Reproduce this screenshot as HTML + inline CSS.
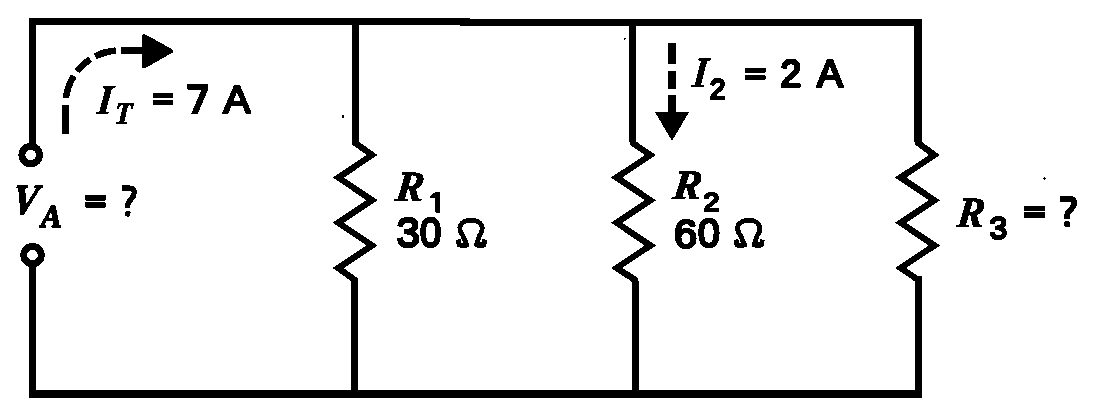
<!DOCTYPE html>
<html><head><meta charset="utf-8"><style>
html,body{margin:0;padding:0;background:#fff;width:1104px;height:412px;overflow:hidden}
svg{display:block}
text{fill:#000}
</style></head><body>
<svg width="1104" height="412" viewBox="0 0 1104 412">
<defs><filter id="bin" x="0" y="0" width="1104" height="412" filterUnits="userSpaceOnUse" color-interpolation-filters="sRGB"><feComponentTransfer><feFuncR type="discrete" tableValues="0 1"/><feFuncG type="discrete" tableValues="0 1"/><feFuncB type="discrete" tableValues="0 1"/></feComponentTransfer></filter></defs>
<g filter="url(#bin)">
<rect width="1104" height="412" fill="#fff"/>
<path d="M32.2 147 L32.2 21.3 L466 21.3" fill="none" stroke="#000" stroke-width="7" stroke-linejoin="miter" stroke-linecap="square"/>
<path d="M464 22.4 L918.3 22.4 L918.3 141" fill="none" stroke="#000" stroke-width="7" stroke-linejoin="miter" stroke-linecap="square"/>
<rect x="342" y="115.5" width="2" height="2"/><rect x="1043.5" y="177.5" width="2" height="2"/><rect x="624" y="38" width="1.5" height="1.5"/>
<path d="M32.4 263 L32.4 394 L918.5 394 L918.5 280" fill="none" stroke="#000" stroke-width="7" stroke-linejoin="miter" stroke-linecap="square"/>
<path d="M355.2 21.5 L355.2 143 L372.05 155.00 L338.25 177.60 L372.05 200.20 L338.25 222.80 L372.05 245.40 L338.25 268.00 L354.9 280 L354.9 394" fill="none" stroke="#000" stroke-width="6.3" stroke-linejoin="miter" stroke-miterlimit="10"/>
<path d="M355.2 21.5 L355.2 142" fill="none" stroke="#000" stroke-width="7"/><path d="M354.9 281 L354.9 394" fill="none" stroke="#000" stroke-width="7"/>
<path d="M632.8 21.5 L632.8 143 L650.40 155.00 L616.60 177.60 L650.40 200.20 L616.60 222.80 L650.40 245.40 L616.60 268.00 L635.3 280 L635.3 394" fill="none" stroke="#000" stroke-width="6.3" stroke-linejoin="miter" stroke-miterlimit="10"/>
<path d="M632.8 21.5 L632.8 142" fill="none" stroke="#000" stroke-width="7"/><path d="M635.3 281 L635.3 394" fill="none" stroke="#000" stroke-width="7"/>
<path d="M918.0 21.5 L918.0 143 L934.40 155.00 L900.60 177.60 L934.40 200.20 L900.60 222.80 L934.40 245.40 L900.60 268.00 L918.2 280 L918.2 394" fill="none" stroke="#000" stroke-width="6.3" stroke-linejoin="miter" stroke-miterlimit="10"/>
<path d="M918.0 21.5 L918.0 142" fill="none" stroke="#000" stroke-width="7"/><path d="M918.2 281 L918.2 394" fill="none" stroke="#000" stroke-width="7"/>
<circle cx="30.7" cy="155" r="8.8" fill="#fff" stroke="#000" stroke-width="7"/>
<circle cx="32.5" cy="255" r="8.8" fill="#fff" stroke="#000" stroke-width="7"/>
<path d="M65.6 134 L65.6 105 M65.90 97.92 A54 54 0 0 1 73.71 75.88 M76.95 71.25 A54 54 0 0 1 90.09 59.21 M94.98 56.39 A54 54 0 0 1 115.73 50.63 M121 50.4 L146 50.4" fill="none" stroke="#000" stroke-width="6.6"/>
<path d="M144 36 L171.3 51 L144 66.4 Z" fill="#000" stroke="#000" stroke-width="4" stroke-linejoin="round"/>
<path d="M672 43 L672 64 M672 71 L672 89 M672 95 L672 114" fill="none" stroke="#000" stroke-width="7"/>
<path d="M655 112 L689 112 L672 141 Z" fill="#000"/>
<rect x="153" y="93" width="20.4" height="4.75"/><rect x="153" y="99.9" width="20.4" height="5.10"/>
<rect x="85.2" y="195" width="20.4" height="5.50"/><rect x="85.2" y="202.3" width="20.4" height="5.20"/>
<rect x="745" y="67.9" width="20.6" height="4.60"/><rect x="745" y="75.2" width="20.6" height="4.60"/>
<rect x="1024.1" y="205.8" width="21.3" height="5.00"/><rect x="1024.1" y="212.4" width="21.3" height="5.40"/>
<text transform="translate(96.14 113.59) scale(0.1916 0.2115) skewX(-7)" font-family="Liberation Serif" font-weight="bold" font-style="italic" font-size="200" stroke="#000" stroke-width="4.46" stroke-linejoin="round">I</text>
<text transform="translate(114.12 124.40) scale(0.1411 0.1586) skewX(-5)" font-family="Liberation Serif" font-weight="bold" font-style="italic" font-size="200" stroke="#000" stroke-width="6.67" stroke-linejoin="round">T</text>
<text transform="translate(223.27 112.69) scale(0.2049 0.1965)" font-family="Liberation Sans" font-weight="normal" font-style="normal" font-size="200" stroke="#000" stroke-width="10.96" stroke-linejoin="round">A</text>
<text transform="translate(11.47 214.01) scale(0.1896 0.2156) skewX(-8)" font-family="Liberation Serif" font-weight="bold" font-style="italic" font-size="200" stroke="#000" stroke-width="7.40" stroke-linejoin="round">V</text>
<text transform="translate(41.08 226.91) scale(0.1559 0.1574)" font-family="Liberation Serif" font-weight="bold" font-style="italic" font-size="200" stroke="#000" stroke-width="8.94" stroke-linejoin="round">A</text>
<text transform="translate(394.60 200.72) scale(0.2103 0.2158) skewX(-7)" font-family="Liberation Serif" font-weight="bold" font-style="italic" font-size="200" stroke="#000" stroke-width="4.69" stroke-linejoin="round">R</text>
<text transform="translate(396.46 247.48) scale(0.2097 0.2169)" font-family="Liberation Sans" font-weight="normal" font-style="normal" font-size="200" stroke="#000" stroke-width="11.96" stroke-linejoin="round">3</text>
<text transform="translate(420.00 247.48) scale(0.1907 0.2169)" font-family="Liberation Sans" font-weight="normal" font-style="normal" font-size="200" stroke="#000" stroke-width="12.51" stroke-linejoin="round">0</text>
<text transform="translate(691.63 87.38) scale(0.1896 0.2176) skewX(-7)" font-family="Liberation Serif" font-weight="bold" font-style="italic" font-size="200" stroke="#000" stroke-width="3.44" stroke-linejoin="round">I</text>
<text transform="translate(710.00 99.04) scale(0.1373 0.1433)" font-family="Liberation Sans" font-weight="normal" font-style="normal" font-size="200" stroke="#000" stroke-width="17.10" stroke-linejoin="round">2</text>
<text transform="translate(780.47 86.82) scale(0.1858 0.1905)" font-family="Liberation Sans" font-weight="normal" font-style="normal" font-size="200" stroke="#000" stroke-width="14.88" stroke-linejoin="round">2</text>
<text transform="translate(816.86 86.75) scale(0.1967 0.1977)" font-family="Liberation Sans" font-weight="normal" font-style="normal" font-size="200" stroke="#000" stroke-width="12.17" stroke-linejoin="round">A</text>
<text transform="translate(671.76 198.60) scale(0.2146 0.2100) skewX(-7)" font-family="Liberation Serif" font-weight="bold" font-style="italic" font-size="200" stroke="#000" stroke-width="4.71" stroke-linejoin="round">R</text>
<text transform="translate(703.51 211.11) scale(0.1426 0.1326)" font-family="Liberation Sans" font-weight="normal" font-style="normal" font-size="200" stroke="#000" stroke-width="17.44" stroke-linejoin="round">2</text>
<text transform="translate(673.90 247.69) scale(0.2084 0.2074)" font-family="Liberation Sans" font-weight="normal" font-style="normal" font-size="200" stroke="#000" stroke-width="12.27" stroke-linejoin="round">6</text>
<text transform="translate(697.91 247.01) scale(0.1966 0.2073)" font-family="Liberation Sans" font-weight="normal" font-style="normal" font-size="200" stroke="#000" stroke-width="12.63" stroke-linejoin="round">0</text>
<text transform="translate(956.00 226.65) scale(0.2044 0.2158) skewX(-7)" font-family="Liberation Serif" font-weight="bold" font-style="italic" font-size="200" stroke="#000" stroke-width="4.76" stroke-linejoin="round">R</text>
<text transform="translate(989.50 238.96) scale(0.1591 0.1531)" font-family="Liberation Sans" font-weight="normal" font-style="normal" font-size="200" stroke="#000" stroke-width="15.37" stroke-linejoin="round">3</text>
<path d="M187.1 84.3 L207.2 84.3 Q208.3 84.5 208.2 86 L208.2 89.3 L197.6 113.9 L191 113.9 L201.6 89.6 L187.1 89.6 Z"/>
<path transform="translate(0 0)" d="M458.2 239.5 L459.2 245.2 L467 245.2 L463 236 C456.5 227 461 220.3 471 220.3 C481 220.3 485.5 227 479.3 236 L476.5 245 L484 245 L484.6 239.5" fill="none" stroke="#000" stroke-width="4.8" stroke-linejoin="round"/>
<path transform="translate(277.7 0)" d="M458.2 239.5 L459.2 245.2 L467 245.2 L463 236 C456.5 227 461 220.3 471 220.3 C481 220.3 485.5 227 479.3 236 L476.5 245 L484 245 L484.6 239.5" fill="none" stroke="#000" stroke-width="4.8" stroke-linejoin="round"/>
<g transform="translate(1060.10 196.70) scale(1.0000 1.0000) translate(-1060.1 -196.7)"><path d="M1060.3 199 L1070 199 C1074.5 199 1074.8 203.5 1073.5 206 C1072 209 1067 211.5 1067 216 L1067 218.7" fill="none" stroke="#000" stroke-width="5.8"/><rect x="1064.2" y="221.1" width="5.8" height="5.9" rx="1.5"/></g>
<g transform="translate(121.50 186.10) scale(0.9048 1.0064) translate(-1060.1 -196.7)"><path d="M1060.3 199 L1070 199 C1074.5 199 1074.8 203.5 1073.5 206 C1072 209 1067 211.5 1067 216 L1067 218.7" fill="none" stroke="#000" stroke-width="5.8"/><rect x="1064.2" y="221.1" width="5.8" height="5.9" rx="1.5"/></g>
<path d="M440.3 192.4 L435 192.4 L432.5 193.8 L430.2 195.8 L430.1 198.3 L432.8 198.6 L435.2 197.3 L435.2 212.5 L440.3 212.5 Z"/>
</g>
</svg>
</body></html>
